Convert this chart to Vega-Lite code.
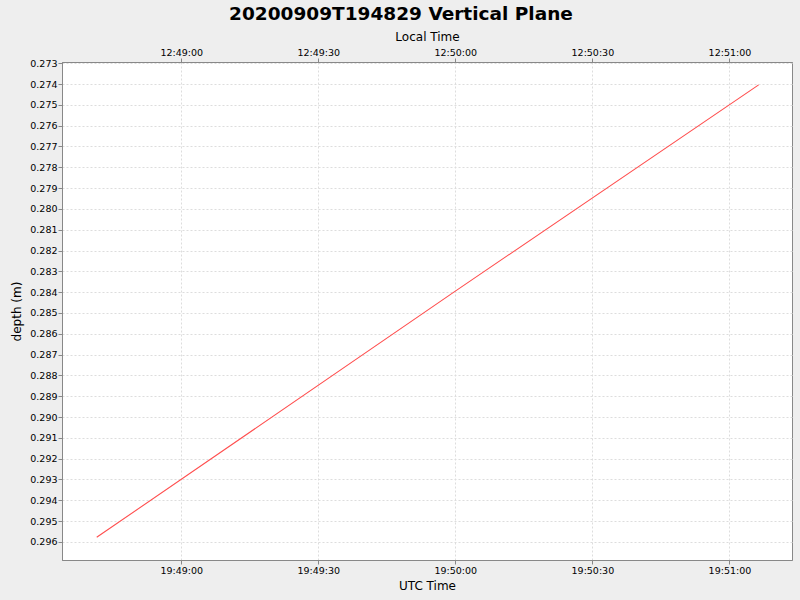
{
  "$schema": "https://vega.github.io/schema/vega-lite/v6.json",
  "width": 730,
  "height": 498,
  "autosize": "none",
  "padding": {"left": 62, "top": 62, "right": 8, "bottom": 40},
  "background": "#eeeeee",
  "title": {
    "text": "20200909T194829 Vertical Plane",
    "font": "DejaVu Sans",
    "fontSize": 18.5,
    "fontWeight": "bold",
    "color": "#000000",
    "anchor": "middle",
    "dx": -26,
    "offset": 7
  },
  "config": {
    "view": {"fill": "white", "stroke": "#888888", "strokeWidth": 1},
    "axis": {
      "labelFont": "DejaVu Sans",
      "labelFontSize": 9.5,
      "labelColor": "#000000",
      "labelOverlap": false,
      "titleFont": "DejaVu Sans",
      "titleFontSize": 12,
      "titleFontWeight": "normal",
      "titleColor": "#000000",
      "domainColor": "#888888",
      "tickColor": "#888888",
      "tickSize": 4,
      "labelPadding": 1,
      "gridColor": "#dddddd",
      "gridDash": [2, 2],
      "gridWidth": 1
    }
  },
  "data": {
    "values": [
      {"utc": "2020-09-09T19:48:41.500Z", "depth": 0.29578},
      {"utc": "2020-09-09T19:50:00.000Z", "depth": 0.28395},
      {"utc": "2020-09-09T19:51:06.400Z", "depth": 0.27404}
    ]
  },
  "layer": [
    {
      "mark": {"type": "line", "color": "#ff4f4f", "strokeWidth": 1.1},
      "encoding": {
        "x": {
          "field": "utc",
          "type": "temporal",
          "scale": {
            "type": "utc",
            "domain": [
              {"year": 2020, "month": 9, "date": 9, "hours": 19, "minutes": 48, "seconds": 33, "milliseconds": 900, "utc": true},
              {"year": 2020, "month": 9, "date": 9, "hours": 19, "minutes": 51, "seconds": 13, "milliseconds": 700, "utc": true}
            ]
          },
          "axis": {
            "orient": "bottom",
            "title": "UTC Time",
            "format": "%H:%M:%S",
            "values": [
              {"year": 2020, "month": 9, "date": 9, "hours": 19, "minutes": 49, "seconds": 0, "utc": true},
              {"year": 2020, "month": 9, "date": 9, "hours": 19, "minutes": 49, "seconds": 30, "utc": true},
              {"year": 2020, "month": 9, "date": 9, "hours": 19, "minutes": 50, "seconds": 0, "utc": true},
              {"year": 2020, "month": 9, "date": 9, "hours": 19, "minutes": 50, "seconds": 30, "utc": true},
              {"year": 2020, "month": 9, "date": 9, "hours": 19, "minutes": 51, "seconds": 0, "utc": true}
            ],
            "titlePadding": 6
          }
        },
        "y": {
          "field": "depth",
          "type": "quantitative",
          "scale": {"domain": [0.27294, 0.29687], "reverse": true, "nice": false, "zero": false},
          "axis": {
            "title": "depth (m)",
            "format": ".3f",
            "labelOverlap": false,
            "values": [0.273, 0.274, 0.275, 0.276, 0.277, 0.278, 0.279, 0.28, 0.281, 0.282, 0.283, 0.284, 0.285, 0.286, 0.287, 0.288, 0.289, 0.29, 0.291, 0.292, 0.293, 0.294, 0.295, 0.296],
            "titlePadding": 6
          }
        }
      }
    },
    {
      "mark": {"type": "rule", "strokeOpacity": 0},
      "encoding": {
        "x": {
          "field": "utc",
          "type": "temporal",
          "axis": {
            "orient": "top",
            "title": "Local Time",
            "grid": false,
            "labelExpr": "utcFormat(datum.value - 25200000, '%H:%M:%S')",
            "values": [
              {"year": 2020, "month": 9, "date": 9, "hours": 19, "minutes": 49, "seconds": 0, "utc": true},
              {"year": 2020, "month": 9, "date": 9, "hours": 19, "minutes": 49, "seconds": 30, "utc": true},
              {"year": 2020, "month": 9, "date": 9, "hours": 19, "minutes": 50, "seconds": 0, "utc": true},
              {"year": 2020, "month": 9, "date": 9, "hours": 19, "minutes": 50, "seconds": 30, "utc": true},
              {"year": 2020, "month": 9, "date": 9, "hours": 19, "minutes": 51, "seconds": 0, "utc": true}
            ],
            "titlePadding": 4
          }
        }
      }
    }
  ],
  "resolve": {"axis": {"x": "independent"}}
}
